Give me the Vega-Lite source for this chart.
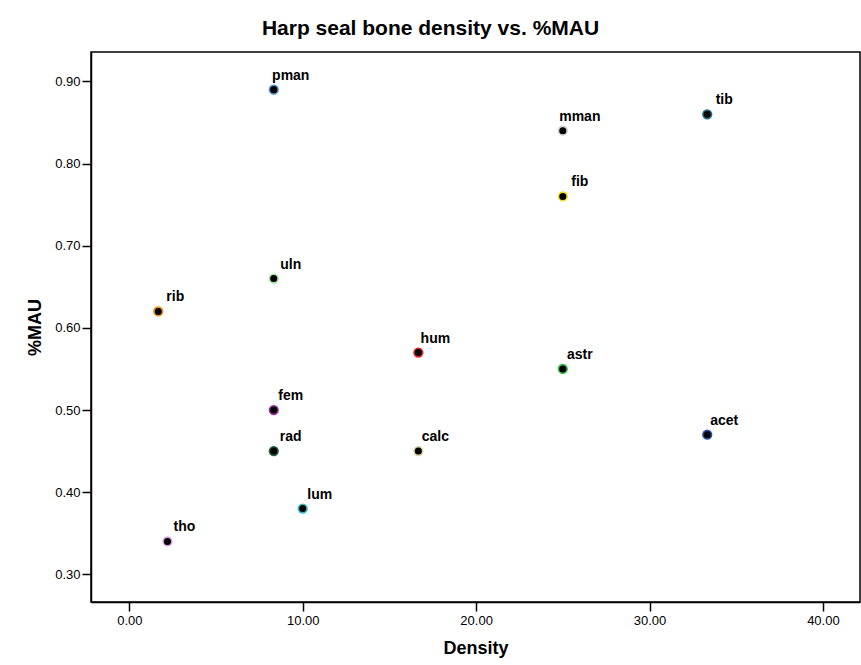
{
  "$schema": "https://vega.github.io/schema/vega-lite/v6.json",
  "autosize": "none",
  "width": 769,
  "height": 550,
  "padding": {"left": 91, "top": 52, "right": 1, "bottom": 63},
  "background": "white",
  "title": {"text": "Harp seal bone density vs. %MAU", "font": "Liberation Sans", "fontSize": 21, "fontWeight": "bold", "color": "black", "offset": 13, "anchor": "middle", "dx": -45},
  "config": {
    "view": {"stroke": "black", "strokeWidth": 1.5},
    "axis": {"grid": false, "domainColor": "black", "domainWidth": 1.5, "tickColor": "black", "tickWidth": 1.5, "labelFont": "Liberation Sans", "labelFontSize": 13, "labelColor": "black", "titleFont": "Liberation Sans", "titleFontSize": 18, "titleFontWeight": "bold", "titleColor": "black"}
  },
  "data": {"values": [
    {"bone": "pman", "density": 8.33, "mau": 0.89, "c": "#4f8fd0"},
    {"bone": "mman", "density": 25.0, "mau": 0.84, "c": "#cfcfcf"},
    {"bone": "tib", "density": 33.33, "mau": 0.86, "c": "#1e6f8c"},
    {"bone": "fib", "density": 25.0, "mau": 0.76, "c": "#f2e21c"},
    {"bone": "uln", "density": 8.33, "mau": 0.66, "c": "#a4e4a0"},
    {"bone": "rib", "density": 1.67, "mau": 0.62, "c": "#f0900e"},
    {"bone": "hum", "density": 16.67, "mau": 0.57, "c": "#e42222"},
    {"bone": "astr", "density": 25.0, "mau": 0.55, "c": "#2fc040"},
    {"bone": "fem", "density": 8.33, "mau": 0.50, "c": "#a02fa0"},
    {"bone": "rad", "density": 8.33, "mau": 0.45, "c": "#1f6040"},
    {"bone": "calc", "density": 16.67, "mau": 0.45, "c": "#d8d0a0"},
    {"bone": "acet", "density": 33.33, "mau": 0.47, "c": "#3050a8"},
    {"bone": "lum", "density": 10.0, "mau": 0.38, "c": "#30c0c8"},
    {"bone": "tho", "density": 2.2, "mau": 0.34, "c": "#d4a4e4"}
  ]},
  "encoding": {
    "x": {"field": "density", "type": "quantitative", "title": "Density",
      "scale": {"domain": [-2.21, 42.14], "nice": false, "zero": false},
      "axis": {"values": [0, 10, 20, 30, 40], "format": ".2f", "tickSize": 9, "labelPadding": 3, "titlePadding": 12}},
    "y": {"field": "mau", "type": "quantitative", "title": "%MAU",
      "scale": {"domain": [0.2663, 0.9358], "nice": false, "zero": false},
      "axis": {"values": [0.3, 0.4, 0.5, 0.6, 0.7, 0.8, 0.9], "format": ".2f", "tickSize": 9, "labelPadding": 2, "titlePadding": 10}}
  },
  "layer": [
    {"mark": {"type": "point", "shape": "circle", "filled": true, "size": 75, "fill": "black", "strokeWidth": 1.6, "opacity": 1},
     "encoding": {"stroke": {"field": "c", "type": "nominal", "scale": null}}},
    {"mark": {"type": "text", "font": "Liberation Sans", "fontSize": 14, "fontWeight": "bold", "align": "center", "baseline": "middle", "dx": 17, "dy": -14, "color": "black"},
     "encoding": {"text": {"field": "bone"}}}
  ]
}
